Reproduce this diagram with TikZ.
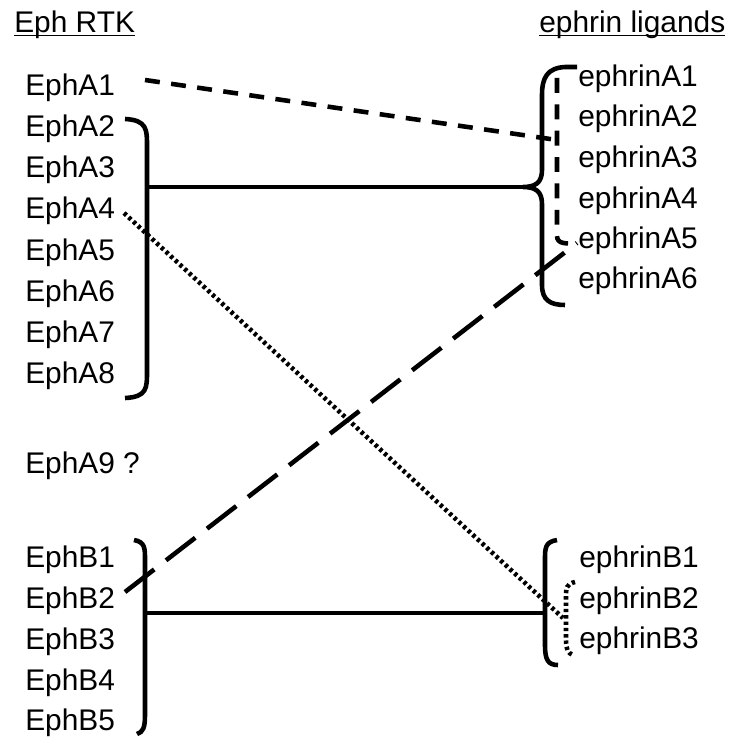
\documentclass[tikz,border=0pt]{standalone}
\usepackage{fontspec}
\setmainfont{Liberation Sans}
\usetikzlibrary{arrows.meta}

\begin{document}
\begin{tikzpicture}[x = 0.02cm, y = -0.02cm,
    every path/.style = {line width = 2.6pt},
    every node/.style = {anchor = base west, inner sep = 0pt,
        font = \fontsize{17}{20}\selectfont}]

        \useasboundingbox (0, 0) rectangle (736, 740);

        % Column headings.
        \node (hdrL) at (12, 33) {\underline{\smash{Eph RTK}}};
        \node (hdrR) at (537, 33) {\underline{\smash{ephrin ligands}}};

        % The receptors.
        \node (A1) at (23, 95) {EphA1};
        \node (A2) at (23, 136) {EphA2};
        \node (A3) at (23, 177) {EphA3};
        \node (A4) at (23, 218) {EphA4};
        \node (A5) at (23, 260) {EphA5};
        \node (A6) at (23, 301) {EphA6};
        \node (A7) at (23, 342) {EphA7};
        \node (A8) at (23, 383) {EphA8};
        \node (A9) at (23, 473) {EphA9 ?};
        \node (B1) at (23, 567) {EphB1};
        \node (B2) at (23, 608) {EphB2};
        \node (B3) at (23, 649) {EphB3};
        \node (B4) at (23, 690) {EphB4};
        \node (B5) at (23, 730) {EphB5};

        % The ligands.
        \node (eA1) at (576, 87) {ephrinA1};
        \node (eA2) at (576, 127) {ephrinA2};
        \node (eA3) at (576, 167) {ephrinA3};
        \node (eA4) at (576, 208) {ephrinA4};
        \node (eA5) at (576, 248) {ephrinA5};
        \node (eA6) at (576, 288) {ephrinA6};
        \node (eB1) at (577, 567) {ephrinB1};
        \node (eB2) at (577, 608) {ephrinB2};
        \node (eB3) at (577, 648) {ephrinB3};

        % Coordinates for the ends of the links.
        \coordinate (A1out) at (145, 80);
        \coordinate (A1in) at (557, 140);
        \coordinate (A4out) at (124, 213);
        \coordinate (B2in) at (563, 618);
        \coordinate (B2out) at (125, 592);
        \coordinate (A5in) at (577, 243);
        \coordinate (Abar) at (147, 187);
        \coordinate (Atip) at (523, 187);
        \coordinate (Bbar) at (145, 613);
        \coordinate (Btip) at (545, 613);

        % The solid brackets.
        \draw (125, 119) .. controls (147, 120) and (147, 130) .. (147, 145)
            -- (147, 372) .. controls (147, 388) and (147, 397) .. (125, 398);
        \draw (577, 67) -- (565, 67) .. controls (547, 68) and (542, 78) .. (542, 95)
            -- (542, 170) .. controls (542, 183) and (535, 187) .. (Atip)
            .. controls (535, 187) and (542, 191) .. (542, 204)
            -- (542, 285) .. controls (542, 300) and (550, 305) .. (565, 305);
        \draw (134, 540) .. controls (145, 542) and (145, 548) .. (145, 560)
            -- (145, 715) .. controls (145, 728) and (143, 732) .. (137, 734);
        \draw (557, 540) .. controls (545, 542) and (545, 548) .. (545, 560)
            -- (545, 645) .. controls (545, 660) and (548, 665) .. (558, 665);

        % The solid links.
        \draw (Abar) to (Atip);
        \draw (Bbar) to (Btip);

        % The short dashed links.
        \begin{scope}[%
            line width = 2.1pt,
            dash pattern = on 8.5pt off 6.5pt
        ]
            \draw (A1out) to (A1in);
            \draw (557, 78) -- (557, 236) .. controls (557, 244) and (566, 244) .. (A5in);
        \end{scope}

        % The long dashed link.
        \begin{scope}[%
            line width = 2.1pt,
            dash pattern = on 21pt off 8.5pt
        ]
            \draw (B2out) to (A5in);
        \end{scope}

        % The dotted links.
        \begin{scope}[%
            line width = 1.9pt,
            dash pattern = on 1.9pt off 1.7pt
        ]
            \draw (A4out) to (B2in);
            \draw (575, 582) .. controls (566, 584) and (566, 588) .. (566, 598)
                -- (566, 640) .. controls (566, 650) and (568, 653) .. (573, 655);
        \end{scope}
    \end{tikzpicture}
\end{document}
